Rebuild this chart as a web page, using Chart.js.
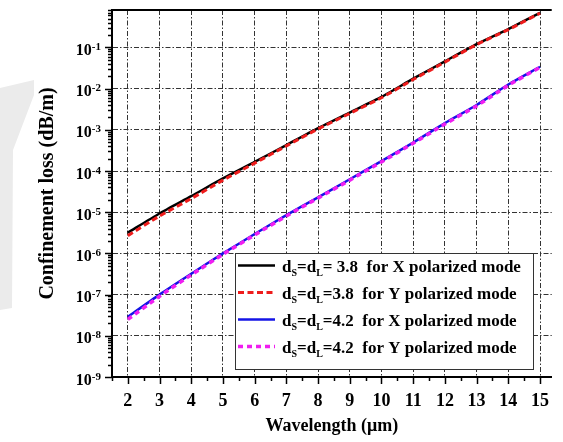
<!DOCTYPE html>
<html>
<head>
<meta charset="utf-8">
<title>Confinement loss vs wavelength</title>
<script src="https://cdn.jsdelivr.net/npm/chart.js@4.4.0/dist/chart.umd.min.js"></script>
<style>
  html, body { margin: 0; padding: 0; background: #fff; overflow: hidden; }
  #wrap { position: relative; width: 563px; height: 442px; }
</style>
</head>
<body>
<div id="wrap"><canvas id="lossChart"></canvas></div>
<script>
/* ── DATA ───────────────────────────────────────────────────── */
const wavelength = [2, 3, 4, 5, 6, 7, 8, 9, 10, 11, 12, 13, 14, 15];

// dS = dL = 3.8
const loss38X = [3.2e-6, 9.3e-6, 2.45e-5, 6.6e-5, 1.66e-4, 4.27e-4, 1.1e-3, 2.63e-3, 6.3e-3, 1.74e-2, 4.6e-2, 0.12, 0.28, 0.69];
const loss38Y = [2.7e-6, 8.1e-6, 2.14e-5, 6.0e-5, 1.55e-4, 4.07e-4, 1.05e-3, 2.5e-3, 6.0e-3, 1.66e-2, 4.4e-2, 0.117, 0.27, 0.68];
// dS = dL = 4.2
const loss42X = [2.9e-8, 1.0e-7, 3.2e-7, 1.0e-6, 2.95e-6, 8.5e-6, 2.3e-5, 6.3e-5, 1.74e-4, 4.9e-4, 1.45e-3, 4.0e-3, 1.26e-2, 3.4e-2];
const loss42Y = [2.5e-8, 9.1e-8, 3.0e-7, 9.5e-7, 2.8e-6, 8.1e-6, 2.2e-5, 6.0e-5, 1.66e-4, 4.7e-4, 1.38e-3, 3.8e-3, 1.2e-2, 3.3e-2];

const xTicks = [2, 3, 4, 5, 6, 7, 8, 9, 10, 11, 12, 13, 14, 15];
const yTicks = [1e-9, 1e-8, 1e-7, 1e-6, 1e-5, 1e-4, 1e-3, 1e-2, 1e-1];
const yTickExp = ['-9', '-8', '-7', '-6', '-5', '-4', '-3', '-2', '-1'];

const legendSize = [' 3.8', '3.8', '4.2', '4.2'];
const legendMode = ['X', 'Y', 'X', 'Y'];

/* ── STYLE ──────────────────────────────────────────────────── */
const SERIF = '"Liberation Serif", "Times New Roman", serif';

/* ── PLUGIN: frame, ticks, labels, legend ───────────────────── */
function seg(ctx, x1, y1, x2, y2) {
  ctx.beginPath();
  ctx.moveTo(x1, y1);
  ctx.lineTo(x2, y2);
  ctx.stroke();
}

const framePlugin = {
  id: 'frame',
  beforeDraw(chart) {
    // faint grey watermark at the left edge
    const ctx = chart.ctx;
    ctx.save();
    ctx.fillStyle = '#ebebeb';
    ctx.beginPath();
    ctx.moveTo(0, 88); ctx.lineTo(34, 80); ctx.lineTo(34, 95);
    ctx.lineTo(13, 150); ctx.lineTo(12, 308); ctx.lineTo(0, 310);
    ctx.closePath();
    ctx.fill();
    ctx.restore();
  },
  afterDraw(chart) {
    const { ctx, chartArea: a, scales: { x, y } } = chart;
    ctx.save();
    ctx.strokeStyle = '#000';

    // top border
    ctx.lineWidth = 2;
    seg(ctx, a.left - 1, a.top, a.right, a.top);

    // x ticks (major + half)
    ctx.lineWidth = 1.5;
    for (let v = 1.5; v <= 15.01; v += 0.5) {
      const px = Math.round(x.getPixelForValue(v)) + 0.5;
      const len = Number.isInteger(v) ? 7 : 4;
      seg(ctx, px, a.bottom, px, a.bottom + len);
    }

    // y ticks (decades + minor)
    for (let e = -9; e <= 0; e++) {
      for (let m = 1; m <= 9; m++) {
        const v = m * Math.pow(10, e);
        if (v > y.max) break;
        const py = Math.round(y.getPixelForValue(v)) + 0.5;
        const len = m === 1 ? 7 : 4;
        seg(ctx, a.left - len, py, a.left, py);
      }
    }

    // y tick labels 10^n
    ctx.fillStyle = '#000';
    ctx.textAlign = 'right';
    ctx.textBaseline = 'alphabetic';
    yTicks.forEach((v, i) => {
      const py = y.getPixelForValue(v);
      const right = a.left - 11;
      ctx.font = 'bold 11px ' + SERIF;
      const ew = ctx.measureText(yTickExp[i]).width;
      ctx.fillText(yTickExp[i], right, py + 2.5);
      ctx.font = 'bold 16px ' + SERIF;
      ctx.fillText('10', right - ew, py + 7.5);
    });

    // legend
    const box = { left: 235, top: 253, right: 533, bottom: 369 };
    ctx.fillStyle = '#fff';
    ctx.fillRect(box.left, box.top, box.right - box.left, box.bottom - box.top);
    ctx.strokeStyle = '#333';
    ctx.lineWidth = 1;
    ctx.strokeRect(box.left + 0.5, box.top + 0.5, box.right - box.left, box.bottom - box.top);

    chart.data.datasets.forEach((ds, i) => {
      const cy = 265.5 + i * 27;
      ctx.save();
      ctx.strokeStyle = ds.borderColor;
      ctx.lineWidth = ds.borderWidth;
      ctx.setLineDash(ds.borderDash || []);
      seg(ctx, 238, cy, 275, cy);
      ctx.restore();

      // text with subscripts
      ctx.fillStyle = '#000';
      ctx.textAlign = 'left';
      ctx.textBaseline = 'alphabetic';
      const base = cy + 6;
      let tx = 282;
      const put = (txt, size, dy) => {
        ctx.font = 'bold ' + size + 'px ' + SERIF;
        ctx.fillText(txt, tx, base + dy);
        tx += ctx.measureText(txt).width;
      };
      put('d', 17, 0);
      put('S', 10, 4);
      put('=d', 17, 0);
      put('L', 10, 4);
      put('=' + legendSize[i] + '  for ' + legendMode[i] + ' polarized mode', 17, 0);
    });

    ctx.restore();
  }
};

/* ── CHART ──────────────────────────────────────────────────── */
const gridColor = '#333';
const gridDash = [5, 2, 1.5, 2];

new Chart(document.getElementById('lossChart'), {
  type: 'line',
  data: {
    labels: wavelength,
    datasets: [
      {
        label: 'dS=dL= 3.8 for X polarized mode',
        data: wavelength.map((w, i) => ({ x: w, y: loss38X[i] })),
        borderColor: '#000000',
        borderWidth: 2.5,
        order: 4,
      },
      {
        label: 'dS=dL=3.8 for Y polarized mode',
        data: wavelength.map((w, i) => ({ x: w, y: loss38Y[i] })),
        borderColor: '#ee1c1c',
        borderWidth: 3,
        borderDash: [6, 3.5],
        order: 3,
      },
      {
        label: 'dS=dL=4.2 for X polarized mode',
        data: wavelength.map((w, i) => ({ x: w, y: loss42X[i] })),
        borderColor: '#1414e6',
        borderWidth: 2.5,
        order: 2,
      },
      {
        label: 'dS=dL=4.2 for Y polarized mode',
        data: wavelength.map((w, i) => ({ x: w, y: loss42Y[i] })),
        borderColor: '#f01ef0',
        borderWidth: 3.5,
        borderDash: [5, 4],
        order: 1,
      },
    ],
  },
  options: {
    responsive: true,
    maintainAspectRatio: false,
    animation: false,
    layout: { padding: { top: 10, right: 0, left: 0, bottom: 0 } },
    elements: {
      point: { radius: 0, hoverRadius: 0 },
      line: { tension: 0.2, fill: false },
    },
    plugins: {
      legend: { display: false },
      tooltip: { enabled: false },
    },
    scales: {
      x: {
        type: 'linear',
        min: 1.5,
        max: 15.37,
        afterBuildTicks: s => { s.ticks = xTicks.map(v => ({ value: v })); },
        afterFit: s => { s.height = 65; },
        grid: { color: gridColor, lineWidth: 1, drawTicks: false },
        border: { display: true, color: '#000', width: 2, dash: gridDash },
        ticks: {
          color: '#000',
          padding: 14,
          font: { family: SERIF, size: 18, weight: 'bold' },
          callback: v => String(v),
        },
        title: {
          display: true,
          text: 'Wavelength (μm)',
          color: '#000',
          font: { family: SERIF, size: 18, weight: 'bold' },
          padding: { top: 0, bottom: 5 },
        },
      },
      y: {
        type: 'logarithmic',
        min: 1e-9,
        max: 0.81,
        afterBuildTicks: s => { s.ticks = yTicks.map(v => ({ value: v })); },
        afterFit: s => { s.width = 112; },
        grid: { color: gridColor, lineWidth: 1, drawTicks: false },
        border: { display: true, color: '#000', width: 2, dash: gridDash },
        ticks: { display: false },
        title: {
          display: true,
          text: 'Confinement loss (dB/m)',
          color: '#000',
          font: { family: SERIF, size: 20, weight: 'bold' },
          padding: { top: 36, bottom: 0 },
        },
      },
    },
  },
  plugins: [framePlugin],
});
</script>
</body>
</html>
